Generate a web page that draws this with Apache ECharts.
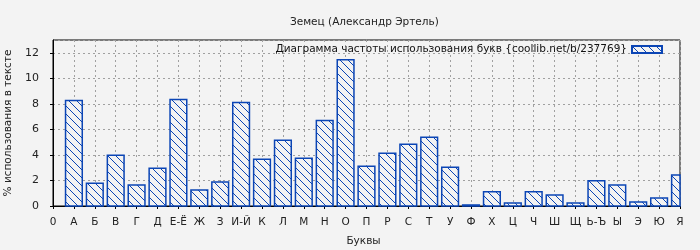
<!DOCTYPE html>
<html>
<head>
<meta charset="utf-8">
<script src="https://cdn.jsdelivr.net/npm/echarts@6/dist/echarts.min.js"></script>
<style>
html,body{margin:0;padding:0;background:#f3f3f3;}
#chart{width:700px;height:250px;}
</style>
</head>
<body>
<div id="chart"></div>
<script>
const categories = ['0','А','Б','В','Г','Д','Е-Ё','Ж','З','И-Й','К','Л','М','Н','О','П','Р','С','Т','У','Ф','Х','Ц','Ч','Ш','Щ','Ь-Ъ','Ы','Э','Ю','Я'];
const values = [null,8.26,1.79,3.97,1.64,2.96,8.34,1.25,1.87,8.10,3.66,5.14,3.74,6.70,11.45,3.12,4.13,4.83,5.38,3.04,0.08,1.12,0.23,1.12,0.86,0.23,1.97,1.64,0.31,0.62,2.42];
const yTicks = [0,2,4,6,8,10,12];
const titleText = 'Земец (Александр Эртель)';
const seriesName = 'Диаграмма частоты использования букв {coollib.net/b/237769}';
const xName = 'Буквы';
const yName = '% использования в тексте';

const BG = '#f3f3f3';
const BLUE = '#0b45b5';
const FONT = 'DejaVu Sans';

function makePattern(){
  const c = document.createElement('canvas');
  const s = 8;
  c.width = s; c.height = s;
  const ctx = c.getContext('2d');
  ctx.fillStyle = BG;
  ctx.fillRect(0,0,s,s);
  ctx.fillStyle = BLUE;
  for (let i = 0; i < s; i++) ctx.fillRect(i, i, 1, 1);
  return c;
}

const barData = [];
values.forEach((v, i) => { if (v != null) barData.push([i, v]); });

function renderBar(params, api){
  const v = api.value(1);
  if (isNaN(v)) return;
  const idx = api.value(0);
  const base = api.coord([idx, 0]);
  const top = api.coord([idx, v]);
  const w = api.size([1, 0])[0] * 0.8;
  const cs = params.coordSys;
  const rect = echarts.graphic.clipRectByRect(
    {x: top[0] - w / 2, y: top[1], width: w, height: base[1] - top[1]},
    {x: cs.x, y: cs.y, width: cs.width, height: cs.height}
  );
  if (!rect) return;
  return {type: 'rect', shape: rect, style: api.style()};
}

const chart = echarts.init(document.getElementById('chart'), null, {renderer:'canvas'});
const gridDash = {color:'#a0a0a0', type:[2,3], width:1};
chart.setOption({
  backgroundColor: BG,
  animation: false,
  title: {
    text: titleText, left: 285, top: 12,
    textStyle: {fontFamily: FONT, fontSize: 10.5, fontWeight: 'normal', color: '#222'}
  },
  legend: {
    right: 32, top: 39, align: 'right',
    itemWidth: 30, itemHeight: 7, itemGap: 10,
    textStyle: {fontFamily: FONT, fontSize: 10.5, color: '#111'},
    data: [{name: seriesName, icon: 'rect'}]
  },
  grid: {left: 53, right: 20, top: 40, bottom: 44, show: true, borderColor: '#000', borderWidth: 1,
    backgroundColor: 'transparent', containLabel: false, outerBoundsMode: 'none'},
  xAxis: {
    type: 'category', data: categories, boundaryGap: false,
    name: xName, nameLocation: 'middle', nameGap: 30,
    nameTextStyle: {fontFamily: FONT, fontSize: 10.5, color: '#222', padding: [0, 6, 0, 0]},
    axisLine: {lineStyle: {color: '#000', width: 1}},
    axisTick: {show: true, length: 3, lineStyle:{color:'#000'}},
    axisLabel: {fontFamily: FONT, fontSize: 10.5, color: '#222', margin: 11, interval: 0},
    splitLine: {show: true, lineStyle: gridDash}
  },
  yAxis: {
    type: 'value', min: 0, max: 13, interval: 2,
    name: yName, nameLocation: 'middle', nameGap: 35, nameRotate: 90,
    nameTextStyle: {fontFamily: FONT, fontSize: 10.5, color: '#222'},
    axisLine: {show: true, lineStyle: {color: '#000', width: 1}},
    axisTick: {show: true, length: 3, lineStyle:{color:'#000'}},
    axisLabel: {fontFamily: FONT, fontSize: 11, color: '#222', margin: 14, showMaxLabel: false,
      formatter: v => yTicks.includes(v) ? String(v) : ''},
    splitLine: {show: true, lineStyle: gridDash}
  },
  series: [{
    name: seriesName, type: 'custom', data: barData, renderItem: renderBar,
    encode: {x: 0, y: 1},
    itemStyle: {color: {image: makePattern(), repeat: 'repeat'}, borderColor: BLUE, borderWidth: 1.5}
  }]
});
</script>
</body>
</html>
